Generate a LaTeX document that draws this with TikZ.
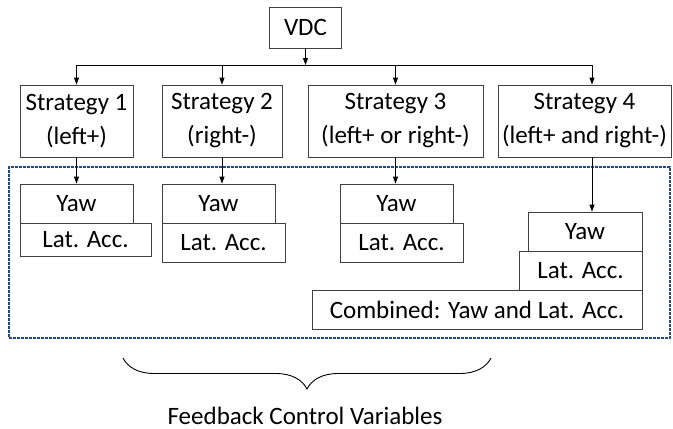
\documentclass[tikz,border=0pt]{standalone}
\usepackage{fontspec}
\setmainfont{Carlito}
\usetikzlibrary{arrows.meta,decorations.pathreplacing}
\definecolor{navy}{HTML}{24478A}
\definecolor{boxline}{HTML}{404040}
\begin{document}
\begin{tikzpicture}[x=1pt,y=-1pt,
  box/.style={draw=boxline,line width=0.8pt,inner sep=0pt,align=center,font=\fontsize{25}{34}\selectfont},
  arr/.style={-{Triangle[length=7pt,width=5pt]},line width=0.8pt}]
\useasboundingbox (0,0) rectangle (673,429);
% VDC
\node[box,minimum width=72,minimum height=41] (vdc) at (305.5,27.5) {VDC};
\coordinate (hub) at (305.5,65);
\coordinate (h1) at (76.5,65);
\coordinate (h4) at (592,65);
% strategies
\node[box,minimum width=113,minimum height=72] (s1) at (76.5,121) {Strategy 1\\(left+)};
\node[box,minimum width=120,minimum height=72] (s2) at (222,121) {Strategy 2\\(right-)};
\node[box,minimum width=175,minimum height=72] (s3) at (395.5,121) {Strategy 3\\(left+ or right-)};
\node[box,minimum width=173,minimum height=72] (s4) at (584.5,121) {Strategy 4\\(left+ and right-)};
\draw[arr] (vdc.south) -- (hub);
\draw[line width=0.8pt] (h1) -- (h4);
\draw[arr] (h1) -- (h1 |- s1.north);
\draw[arr] (s2.north |- hub) -- (s2.north);
\draw[arr] (s3.north |- hub) -- (s3.north);
\draw[arr] (h4) -- (h4 |- s4.north);
% dotted frame
\node[draw=navy,line width=2.6pt,dash pattern=on 2.7pt off 1.3pt,minimum width=661,minimum height=171,inner sep=0pt] (frame) at (339.5,252.5) {};
% S1 feedback
\node[box,minimum width=113,minimum height=39] (y1) at (76.5,203.5) {Yaw};
\node[box,minimum width=131,minimum height=33] (l1) at (85.5,239.5) {Lat. Acc.};
% S2
\node[box,minimum width=113,minimum height=39] (y2) at (218.5,203.5) {Yaw};
\node[box,minimum width=123,minimum height=39] (l2) at (223.5,242.5) {Lat. Acc.};
% S3
\node[box,minimum width=113,minimum height=39] (y3) at (396.5,203.5) {Yaw};
\node[box,minimum width=123,minimum height=39] (l3) at (401.5,242.5) {Lat. Acc.};
% S4
\node[box,minimum width=114,minimum height=39] (y4) at (585,231.5) {Yaw};
\node[box,minimum width=123,minimum height=39] (l4) at (580.5,270.5) {Lat. Acc.};
\node[box,minimum width=330,minimum height=39] (c4) at (477,309.5) {Combined: Yaw and Lat. Acc.};
\draw[arr] (s1.south -| h1) -- (y1.north -| h1);
\draw[arr] (s2.south) -- (s2.south |- y2.north);
\draw[arr] (s3.south) -- (s3.south |- y3.north);
\draw[arr] (s4.south -| h4) -- (y4.north -| h4);
% brace
\coordinate (b1) at (123,358);
\coordinate (b2) at (491,358);
\draw[line width=0.9pt,decorate,decoration={brace,mirror,amplitude=31pt}] (b1) -- (b2);
\node[font=\fontsize{25}{28}\selectfont,anchor=base,inner sep=0pt] (fcv) at (305,424) {Feedback Control Variables};
\end{tikzpicture}
\end{document}
